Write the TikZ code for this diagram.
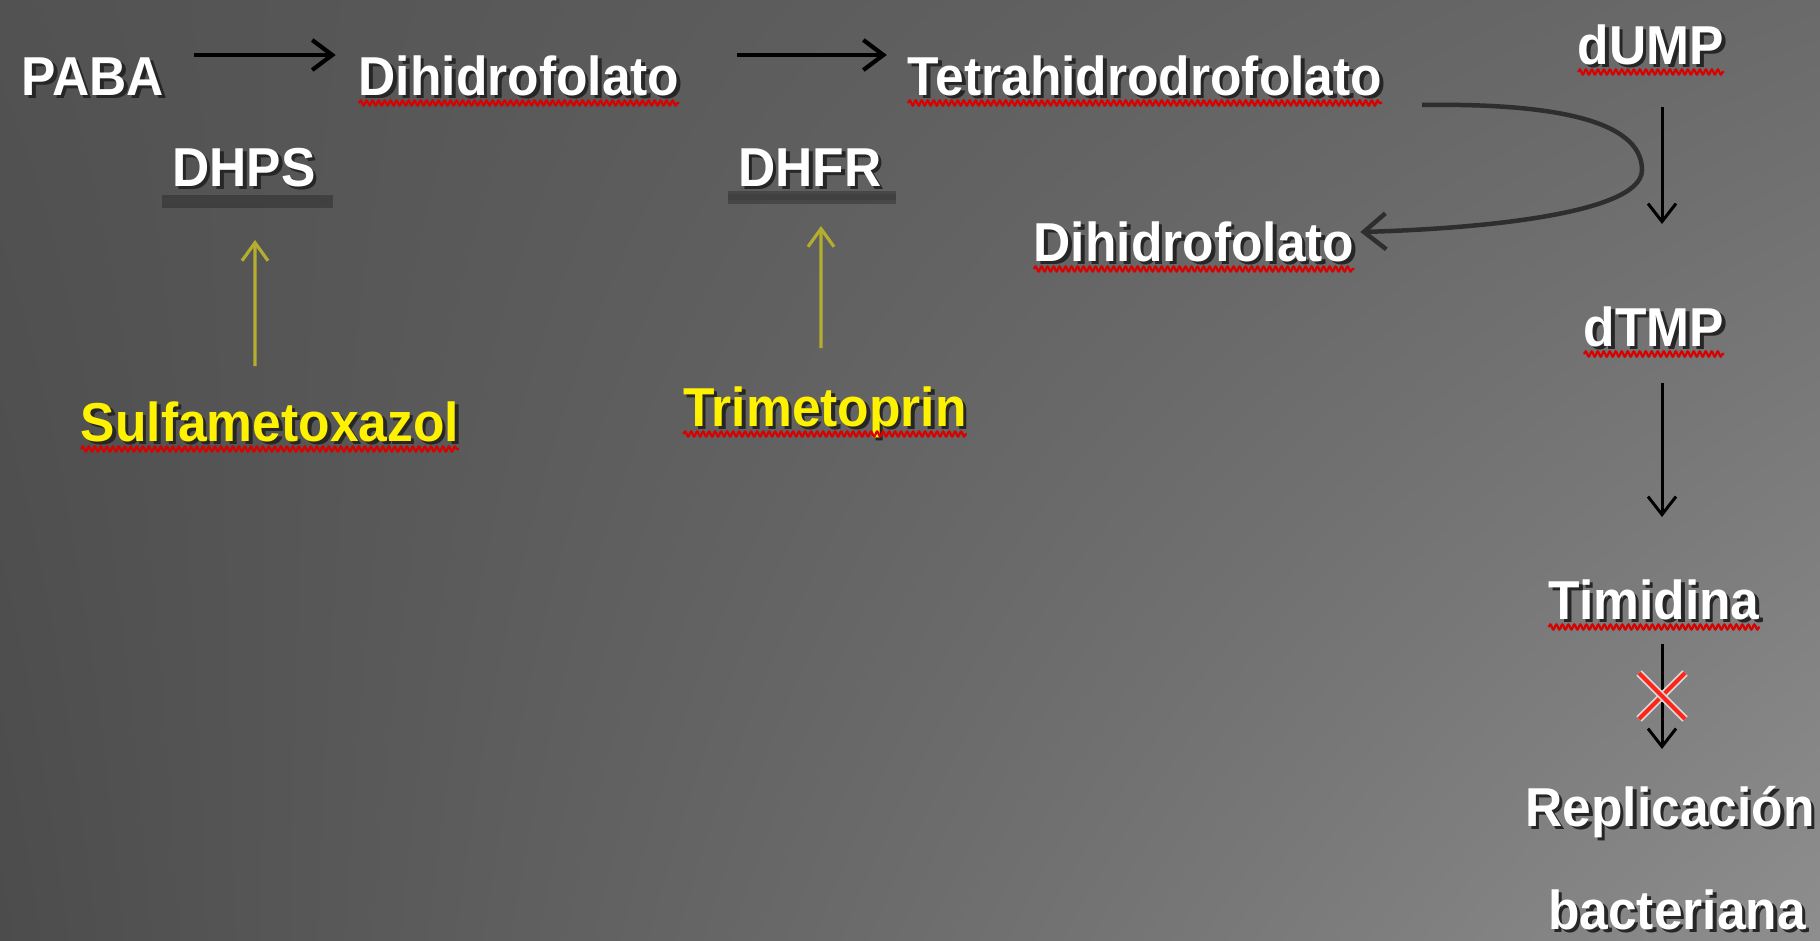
\documentclass[tikz,border=0pt]{standalone}
\usepackage{fontspec}
\newfontfamily\labfont[FakeStretch=0.94]{Liberation Sans}
\usetikzlibrary{arrows.meta,decorations.pathmorphing,shadings}
\definecolor{bgUL}{HTML}{525252}
\definecolor{bgLL}{HTML}{4C4C4C}
\definecolor{bgUR}{HTML}{6A6A6A}
\definecolor{bgLR}{HTML}{8E8E8E}
\definecolor{drugarrow}{HTML}{B5AD2E}
\definecolor{loopcol}{HTML}{2E2E2E}
\definecolor{xred}{HTML}{FF2418}
\newcommand{\shd}[1]{\leavevmode\rlap{\kern0.35mm\raisebox{-0.35mm}{\color{black!85}#1}}#1}
\begin{document}
\begin{tikzpicture}[
  lab/.style={inner sep=0pt, outer sep=0pt, anchor=base, text=white,
    font=\labfont\bfseries\fontsize{15.6pt}{18pt}\selectfont,
    text height=4mm, text depth=1mm},
  drug/.style={lab, text=yellow},
  harr/.style={line width=0.42mm, black, -{Straight Barb[length=2mm,width=3mm]}},
  varr/.style={line width=0.3mm, black, -{Straight Barb[length=1.8mm,width=2.8mm]}},
  yarr/.style={line width=0.32mm, drugarrow, -{Straight Barb[length=1.8mm,width=2.6mm]}},
  loop/.style={line width=0.45mm, loopcol, -{Straight Barb[length=2.2mm,width=3.6mm]}},
  enzbar/.style={line width=0.6mm, black!75, preaction={draw, line width=1.3mm, black, opacity=0.25}},
  squig/.style={red!85!black, line width=0.22mm, decorate,
    decoration={snake, amplitude=0.25mm, segment length=0.6mm}},
  xline/.style={xred, line width=0.4mm, preaction={draw=white!70!gray, line width=0.75mm}},
]
\useasboundingbox (0,0) rectangle (18.2,9.4);
\shade[upper left=bgUL, lower left=bgLL, upper right=bgUR, lower right=bgLR] (0,0) rectangle (18.2,9.4);

% nodes
\node[lab] (paba)  at (0.93,8.45)  {\shd{PABA}};
\node[lab] (dhf1)  at (5.19,8.45)  {\shd{Dihidrofolato}};
\node[lab] (tetra) at (11.45,8.45) {\shd{Tetrahidrodrofolato}};
\node[lab] (dump)  at (16.51,8.76) {\shd{dUMP}};
\node[lab] (dhps)  at (2.44,7.54)  {\shd{DHPS}};
\node[lab] (dhfr)  at (8.10,7.54)  {\shd{DHFR}};
\node[lab] (dhf2)  at (11.94,6.79) {\shd{Dihidrofolato}};
\node[lab] (dtmp)  at (16.54,5.94) {\shd{dTMP}};
\node[lab] (tim)   at (16.54,3.21) {\shd{Timidina}};
\node[drug] (sulfa) at (2.70,4.99) {\shd{Sulfametoxazol}};
\node[drug] (trim)  at (8.25,5.14) {\shd{Trimetoprin}};
\node[lab] (rep)   at (16.70,1.14) {\shd{Replicación}};
\node[lab] (bact)  at (16.77,0.11) {\shd{bacteriana}};

\coordinate (col) at (16.62,0);
\coordinate (looprt) at (16.42,7.70);

% spelling underlines
\foreach \n in {dhf1,tetra,dump,dhf2,dtmp,tim,sulfa,trim}
  \draw[squig] ([yshift=-0.8mm]\n.base west) -- ([yshift=-0.8mm]\n.base east);

% enzyme bars
\draw[enzbar] ([xshift=-1mm,yshift=-0.5mm]dhps.south west) -- ([xshift=1.7mm,yshift=-0.5mm]dhps.south east);
\draw[enzbar] ([xshift=-1mm,yshift=-0.1mm]dhfr.south west) -- ([xshift=1.4mm,yshift=-0.1mm]dhfr.south east);

% main pathway
\draw[harr, shorten <=3mm, shorten >=2.3mm] ([yshift=2.5mm]paba.east) -- ([yshift=2.5mm]dhf1.west);
\draw[harr, shorten <=5.8mm, shorten >=2.1mm] ([yshift=2.5mm]dhf1.east) -- ([yshift=2.5mm]tetra.west);

% loop back to dihidrofolato
\draw[loop] ([xshift=4mm]tetra.south east) .. controls +(1.3,0.02) and +(0,0.5) .. (looprt)
  .. controls +(0,-0.45) and +(1.1,0.03) .. ([xshift=0.6mm,yshift=1.4mm]dhf2.east);

% right column
\draw[varr, shorten <=3.3mm, shorten >=8.2mm] (dump.south -| col) -- (dtmp.north -| col);
\draw[varr, shorten <=2.7mm, shorten >=6.2mm] (dtmp.south -| col) -- (tim.north -| col);
\draw[varr, shorten <=1.5mm, shorten >=3.7mm] (tim.south -| col) -- (rep.north -| col);
\coordinate (xc) at (16.62,2.44);
\draw[xline] ([shift={(-2.3mm,-2.3mm)}]xc) -- ([shift={(2.3mm,2.3mm)}]xc);
\draw[xline] ([shift={(-2.3mm,2.3mm)}]xc) -- ([shift={(2.3mm,-2.3mm)}]xc);

% drug arrows
\draw[yarr] ([xshift=-1.5mm,yshift=3.5mm]sulfa.north) -- ([xshift=1.1mm,yshift=-4.4mm]dhps.south);
\draw[yarr] ([xshift=-0.4mm,yshift=3.8mm]trim.north) -- ([xshift=1.1mm,yshift=-3mm]dhfr.south);
\end{tikzpicture}
\end{document}
